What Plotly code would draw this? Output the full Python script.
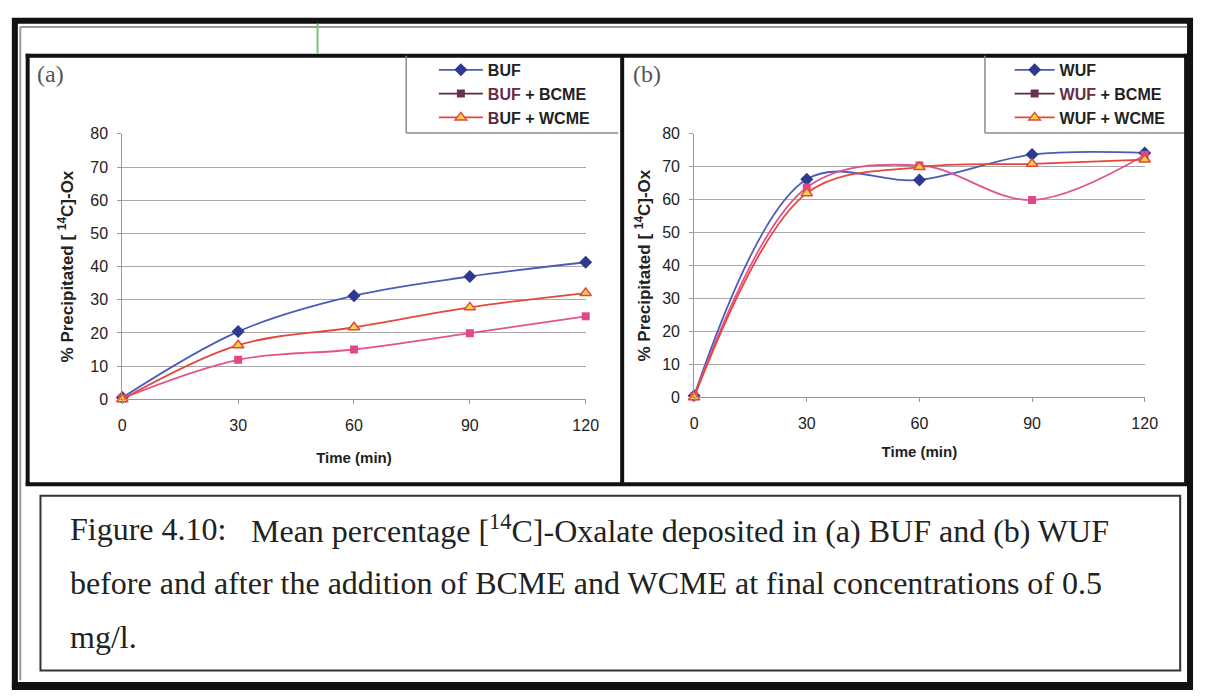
import plotly.graph_objects as go

W, H = 1206, 699

time_min = [0, 30, 60, 90, 120]

# Panel (a)
buf = [0.5, 20.4, 31.2, 37.0, 41.3]
buf_bcme = [0.3, 11.9, 15.0, 19.9, 25.0]
buf_wcme = [0.0, 16.3, 21.7, 27.7, 32.0]

# Panel (b)
wuf = [0.5, 66.2, 66.0, 73.7, 74.2]
wuf_bcme = [0.3, 63.7, 70.4, 59.9, 73.6]
wuf_wcme = [0.0, 62.0, 69.9, 70.9, 72.2]

x_ticks = [0, 30, 60, 90, 120]
y_ticks = [0, 10, 20, 30, 40, 50, 60, 70, 80]

BLUE_LINE = "#4A5CB8"
BLUE_MK = "#2C3A90"
PINK = "#E4528E"
PINK_MK = "#DE4A86"
MAROON = "#5A2A42"
RED = "#E6463C"
YELLOW = "#F6D24A"

def px(x):
    return x / W

def py(y):
    return 1 - y / H

fig = go.Figure()

def add_series(xa, ya, vals_list):
    specs = [
        (vals_list[0], BLUE_LINE, dict(symbol="diamond", size=10, color=BLUE_MK)),
        (vals_list[1], PINK, dict(symbol="square", size=8, color=PINK_MK)),
        (vals_list[2], RED, dict(symbol="triangle-up", size=10, color=YELLOW,
                                 line=dict(color=RED, width=1.5))),
    ]
    for vals, lc, mk in specs:
        fig.add_trace(go.Scatter(
            x=time_min, y=vals, xaxis=xa, yaxis=ya, mode="lines+markers",
            line=dict(color=lc, width=1.8, shape="spline", smoothing=1),
            marker=mk, cliponaxis=False, showlegend=False, hoverinfo="skip"))

add_series("x", "y", [buf, buf_bcme, buf_wcme])
add_series("x2", "y2", [wuf, wuf_bcme, wuf_wcme])

def add_legend(names, leg):
    entries = [
        (names[0], BLUE_LINE, dict(symbol="diamond", size=10, color=BLUE_MK)),
        (names[1], MAROON, dict(symbol="square", size=8, color="#6A3050")),
        (names[2], RED, dict(symbol="triangle-up", size=10, color=YELLOW,
                             line=dict(color=RED, width=1.5))),
    ]
    for i, (nm, lc, mk) in enumerate(entries):
        fig.add_trace(go.Scatter(
            x=[None], y=[None], mode="lines+markers", name=nm,
            line=dict(color=lc, width=1.8), marker=mk,
            legend=leg, legendgroup=f"{leg}{i}", showlegend=True))

add_legend(["BUF", "<span style='color:#6A2A48'>BUF</span> + BCME",
            "<span style='color:#5A2A42'>B</span>UF + WCME"], "legend")
add_legend(["WUF", "<span style='color:#6A2A48'>WUF</span> + BCME",
            "WUF + WCME"], "legend2")

tickfont = dict(family="Liberation Sans, Arial", size=16, color="#222")
xtitlefont = dict(family="Liberation Sans, Arial", size=15, color="#222", weight="bold")
ytitlefont = dict(family="Liberation Sans, Arial", size=17, color="#222", weight="bold")
ytitle = "% Precipitated [ <sup>14</sup>C]-Ox"
legfont = dict(family="Liberation Sans, Arial", size=16, color="#222", weight="bold")

common_x = dict(range=[0, 120], tickvals=x_ticks, showgrid=False, showline=True,
                linecolor="#999", linewidth=1, ticks="outside", ticklen=4,
                tickcolor="#999", tickfont=tickfont, zeroline=False,
                ticklabelstandoff=8)
common_y = dict(range=[0, 80], tickvals=y_ticks, showgrid=True, gridcolor="#A8A8A8",
                gridwidth=1, showline=True, linecolor="#999", linewidth=1,
                ticks="outside", ticklen=4, tickcolor="#999", tickfont=tickfont,
                zeroline=False, ticklabelstandoff=6)

fig.update_layout(
    width=W, height=H, margin=dict(l=0, r=0, t=0, b=0),
    paper_bgcolor="white", plot_bgcolor="white",
    xaxis=dict(domain=[px(120), px(590)], anchor="y",
               title=dict(text="<b>Time (min)</b>", font=xtitlefont, standoff=19), **common_x),
    yaxis=dict(domain=[py(401), py(129)], anchor="x",
               title=dict(text=f"<b>{ytitle}</b>", font=ytitlefont, standoff=12), **common_y),
    xaxis2=dict(domain=[px(700), px(1157)], anchor="y2",
                title=dict(text="<b>Time (min)</b>", font=xtitlefont, standoff=15), **common_x),
    yaxis2=dict(domain=[py(399), py(129)], anchor="x2",
                title=dict(text=f"<b>{ytitle}</b>", font=ytitlefont, standoff=7), **common_y),
    legend=dict(x=px(436), y=py(46), xanchor="left", yanchor="top",
                bgcolor="rgba(0,0,0,0)", borderwidth=0, itemwidth=44,
                traceorder="grouped", tracegroupgap=0, font=legfont),
    legend2=dict(x=px(1020), y=py(46), xanchor="left", yanchor="top",
                 bgcolor="rgba(0,0,0,0)", borderwidth=0, itemwidth=40,
                 traceorder="grouped", tracegroupgap=0, font=legfont),
)

shapes = []
def line(x0, y0, x1, y1, color="black", width=4):
    shapes.append(dict(type="line", xref="paper", yref="paper",
                       x0=px(x0), y0=py(y0), x1=px(x1), y1=py(y1),
                       line=dict(color=color, width=width)))

# outer frame
shapes.append(dict(type="rect", xref="paper", yref="paper", x0=px(11), y0=py(13),
                   x1=px(1203), y1=py(694), line=dict(color="#111", width=6)))
line(8, 695, 1206, 695, "#111", 8)
line(17, 19.5, 1200, 19.5, "#9A9A9A", 2)
line(16.5, 19, 16.5, 689, "#9A9A9A", 2)
# panel frame
line(22, 49, 1203, 49, "#111", 4)
line(24, 47, 24, 490, "#111", 4)
line(22, 488, 1201, 488, "#111", 4)
line(627, 49, 627, 488, "#111", 4)
line(1199, 47, 1199, 490, "#111", 4)
# legend boxes
line(408, 49, 408, 128, "#8A8A8A", 1.5)
line(408, 128, 623, 128, "#8A8A8A", 1.5)
line(995, 49, 995, 128, "#8A8A8A", 1.5)
line(995, 128, 1197, 128, "#8A8A8A", 1.5)
# caption box
shapes.append(dict(type="rect", xref="paper", yref="paper", x0=px(37), y0=py(500),
                   x1=px(1193), y1=py(679), line=dict(color="#333", width=2)))
# scanner artifact
line(318, 16, 318, 47, "#7FBF7F", 2)

fig.update_layout(shapes=shapes)

serif = dict(family="Liberation Serif, Times New Roman", size=32, color="#222")
ann = [
    dict(text="(a)", x=px(31), y=py(68), xanchor="left", yanchor="middle",
         font=dict(family="Liberation Serif, Times New Roman", size=24, color="#555")),
    dict(text="(b)", x=px(636), y=py(68), xanchor="left", yanchor="middle",
         font=dict(family="Liberation Serif, Times New Roman", size=24, color="#555")),
    dict(text="Figure 4.10:", x=px(65), y=py(534), xanchor="left", yanchor="middle", font=serif),
    dict(text="Mean percentage [<sup>14</sup>C]-Oxalate deposited in (a) BUF and (b) WUF",
         x=px(249), y=py(534), xanchor="left", yanchor="middle", font=serif),
    dict(text="before and after the addition of BCME and WCME at final concentrations of 0.5",
         x=px(65), y=py(589), xanchor="left", yanchor="middle", font=serif),
    dict(text="mg/l.", x=px(65), y=py(645), xanchor="left", yanchor="middle", font=serif),
]
for a in ann:
    a.update(xref="paper", yref="paper", showarrow=False)
fig.update_layout(annotations=ann)

fig.write_html("out.html")
